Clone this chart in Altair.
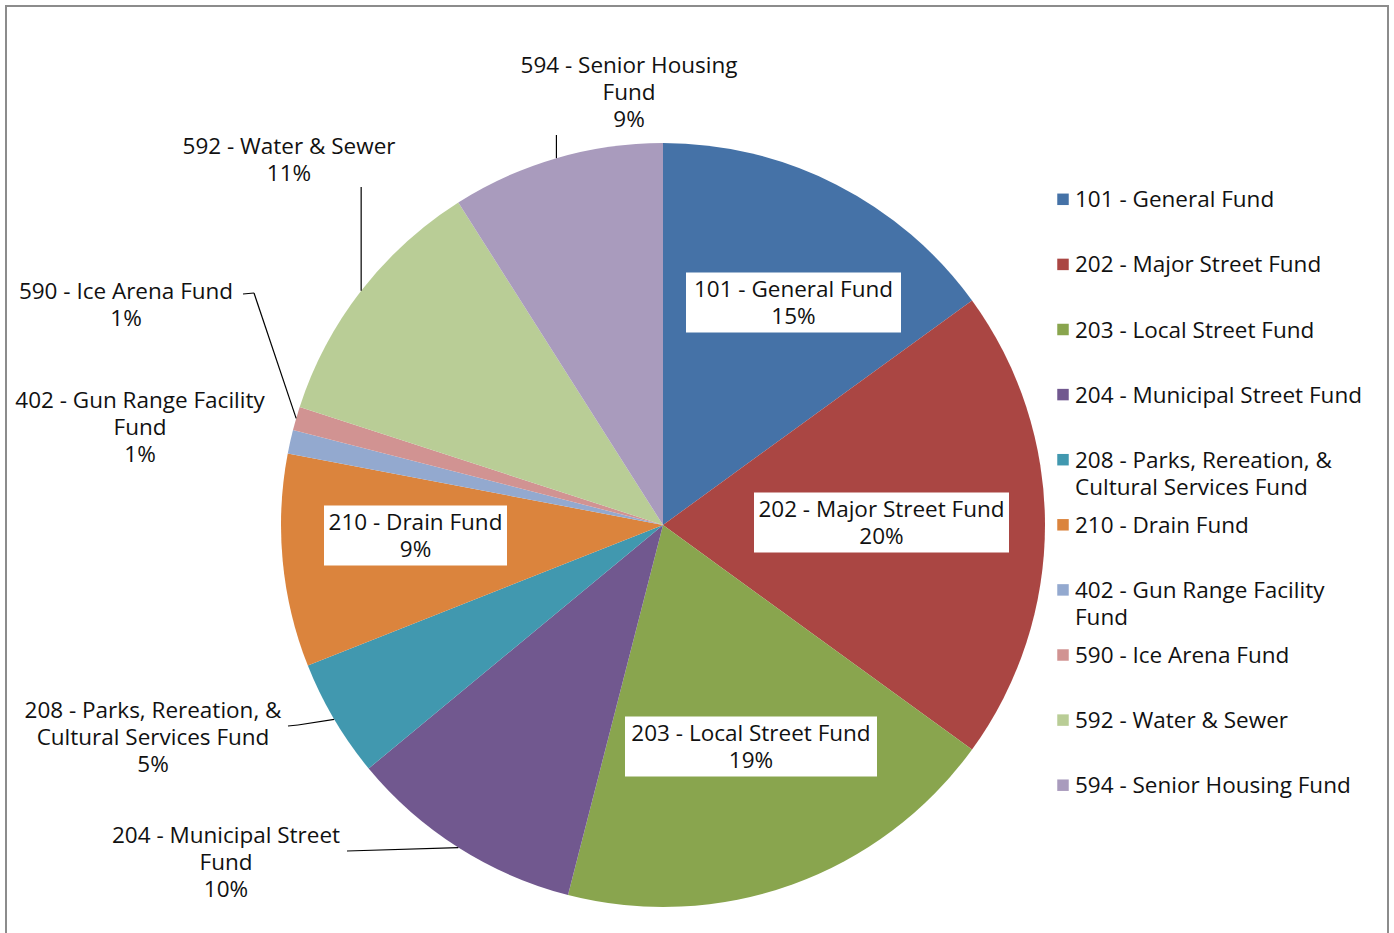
import math
import altair as alt
import pandas as pd

# Fund shares (percent of total)
funds = [
    "101 - General Fund",
    "202 - Major Street Fund",
    "203 - Local Street Fund",
    "204 - Municipal Street Fund",
    "208 - Parks, Rereation, & Cultural Services Fund",
    "210 - Drain Fund",
    "402 - Gun Range Facility Fund",
    "590 - Ice Arena Fund",
    "592 - Water & Sewer",
    "594 - Senior Housing Fund",
]
shares = [15, 20, 19, 10, 5, 9, 1, 1, 11, 9]
colors = ["#4572A7", "#AA4643", "#89A54E", "#71588F", "#4198AF",
          "#DB843D", "#93A9CF", "#D19392", "#B9CD96", "#A99BBD"]

# ---- layout -------------------------------------------------------------
W, H = 1394, 933
CX, CY, R = 663, 525, 382
FONT = "Open Sans"
FS = 22.5
LH = 27

# how each fund name wraps in the data labels / legend
label_wrap = {
    "204 - Municipal Street Fund": ["204 - Municipal Street", "Fund"],
    "208 - Parks, Rereation, & Cultural Services Fund": ["208 - Parks, Rereation, &", "Cultural Services Fund"],
    "402 - Gun Range Facility Fund": ["402 - Gun Range Facility", "Fund"],
    "594 - Senior Housing Fund": ["594 - Senior Housing", "Fund"],
}
legend_wrap = {
    "208 - Parks, Rereation, & Cultural Services Fund": ["208 - Parks, Rereation, &", "Cultural Services Fund"],
    "402 - Gun Range Facility Fund": ["402 - Gun Range Facility", "Fund"],
}

# label anchor: (center x, first baseline y, boxed?)
label_anchor = {
    0: (793.5, 297, True),
    1: (881.5, 517, True),
    2: (751, 741, True),
    3: (226, 843, False),
    4: (153, 718, False),
    5: (415.5, 530, True),
    6: (140, 408, False),
    7: (126, 299, False),
    8: (289, 154, False),
    9: (629, 73, False),
}
# white box half-sizes for boxed labels
box_half = {0: (107.5, 30), 1: (127.5, 30), 2: (126, 30), 5: (91.5, 30)}
# leader line bend points (x None -> vertical drop onto the pie edge)
leaders = {
    9: [(None, 135)],
    8: [(None, 187)],
    7: [(243, 294), (254, 293)],
    4: [(288, 726), (298, 725)],
    3: [(347, 851)],
}

# ---- derived tables -----------------------------------------------------
total = sum(shares)
pie = pd.DataFrame({"fund": funds, "share": shares, "idx": range(len(funds))})

cum = 0.0
mids = []
for v in shares:
    mids.append((cum + v / 2) / total * 2 * math.pi)
    cum += v

text_rows, box_rows, seg_rows = [], [], []
for i, (name, v) in enumerate(zip(funds, shares)):
    x, y, boxed = label_anchor[i]
    lines = label_wrap.get(name, [name]) + [f"{v}%"]
    text_rows.append({"x": x, "y": y, "t": "\n".join(lines)})
    if boxed:
        hw, hh = box_half[i]
        cy = y - 8 + LH / 2
        box_rows.append({"x": x - hw, "x2": x + hw, "y": cy - hh, "y2": cy + hh})
    if i in leaders:
        ex = CX + R * math.sin(mids[i])
        ey = CY - R * math.cos(mids[i])
        pts = [(ex if px is None else px, py) for px, py in leaders[i]] + [(ex, ey)]
        for (ax, ay), (bx, by) in zip(pts[:-1], pts[1:]):
            seg_rows.append({"x": ax, "y": ay, "x2": bx, "y2": by})

leg_rows = []
for i, name in enumerate(funds):
    base = 207.3 + 65.1 * i
    leg_rows.append({"fund": name, "sx": 1063, "sy": base - 8,
                     "tx": 1075, "ty": base,
                     "t": "\n".join(legend_wrap.get(name, [name]))})

texts = pd.DataFrame(text_rows)
boxes = pd.DataFrame(box_rows)
segs = pd.DataFrame(seg_rows)
legend = pd.DataFrame(leg_rows)

color_scale = alt.Scale(domain=funds, range=colors)
px = lambda f: alt.X(f, type="quantitative", scale=None)
py = lambda f: alt.Y(f, type="quantitative", scale=None)

frame = alt.Chart(pd.DataFrame({"a": [0]})).mark_rect(
    fill=None, stroke="#8C8C8C", strokeWidth=2
).encode(x=alt.value(6), x2=alt.value(1388), y=alt.value(6), y2=alt.value(960))

arcs = alt.Chart(pie).mark_arc(radius=R).encode(
    theta=alt.Theta("share:Q", stack=True),
    order=alt.Order("idx:Q"),
    color=alt.Color("fund:N", scale=color_scale, legend=None),
    x=alt.value(CX),
    y=alt.value(CY),
)

box_layer = alt.Chart(boxes).mark_rect(fill="white").encode(
    x=px("x"), x2="x2", y=py("y"), y2="y2"
)

seg_layer = alt.Chart(segs).mark_rule(color="black", strokeWidth=1.2).encode(
    x=px("x"), y=py("y"), x2="x2", y2="y2"
)

label_layer = alt.Chart(texts).mark_text(
    font=FONT, fontSize=FS, lineBreak="\n", lineHeight=LH,
    align="center", baseline="alphabetic", color="#111111"
).encode(x=px("x"), y=py("y"), text="t:N")

leg_sq = alt.Chart(legend).mark_square(size=132, opacity=1).encode(
    x=px("sx"), y=py("sy"),
    color=alt.Color("fund:N", scale=color_scale, legend=None),
)
leg_txt = alt.Chart(legend).mark_text(
    font=FONT, fontSize=FS, lineBreak="\n", lineHeight=LH,
    align="left", baseline="alphabetic", color="#111111"
).encode(x=px("tx"), y=py("ty"), text="t:N")

chart = alt.layer(
    frame, arcs, box_layer, seg_layer, label_layer, leg_sq, leg_txt
).properties(
    width=W, height=H, autosize=alt.AutoSizeParams(type="none"), padding=0,
    background="white"
).configure_view(stroke=None)

chart.save("out.html", embed_options={"renderer": "svg", "actions": False})
